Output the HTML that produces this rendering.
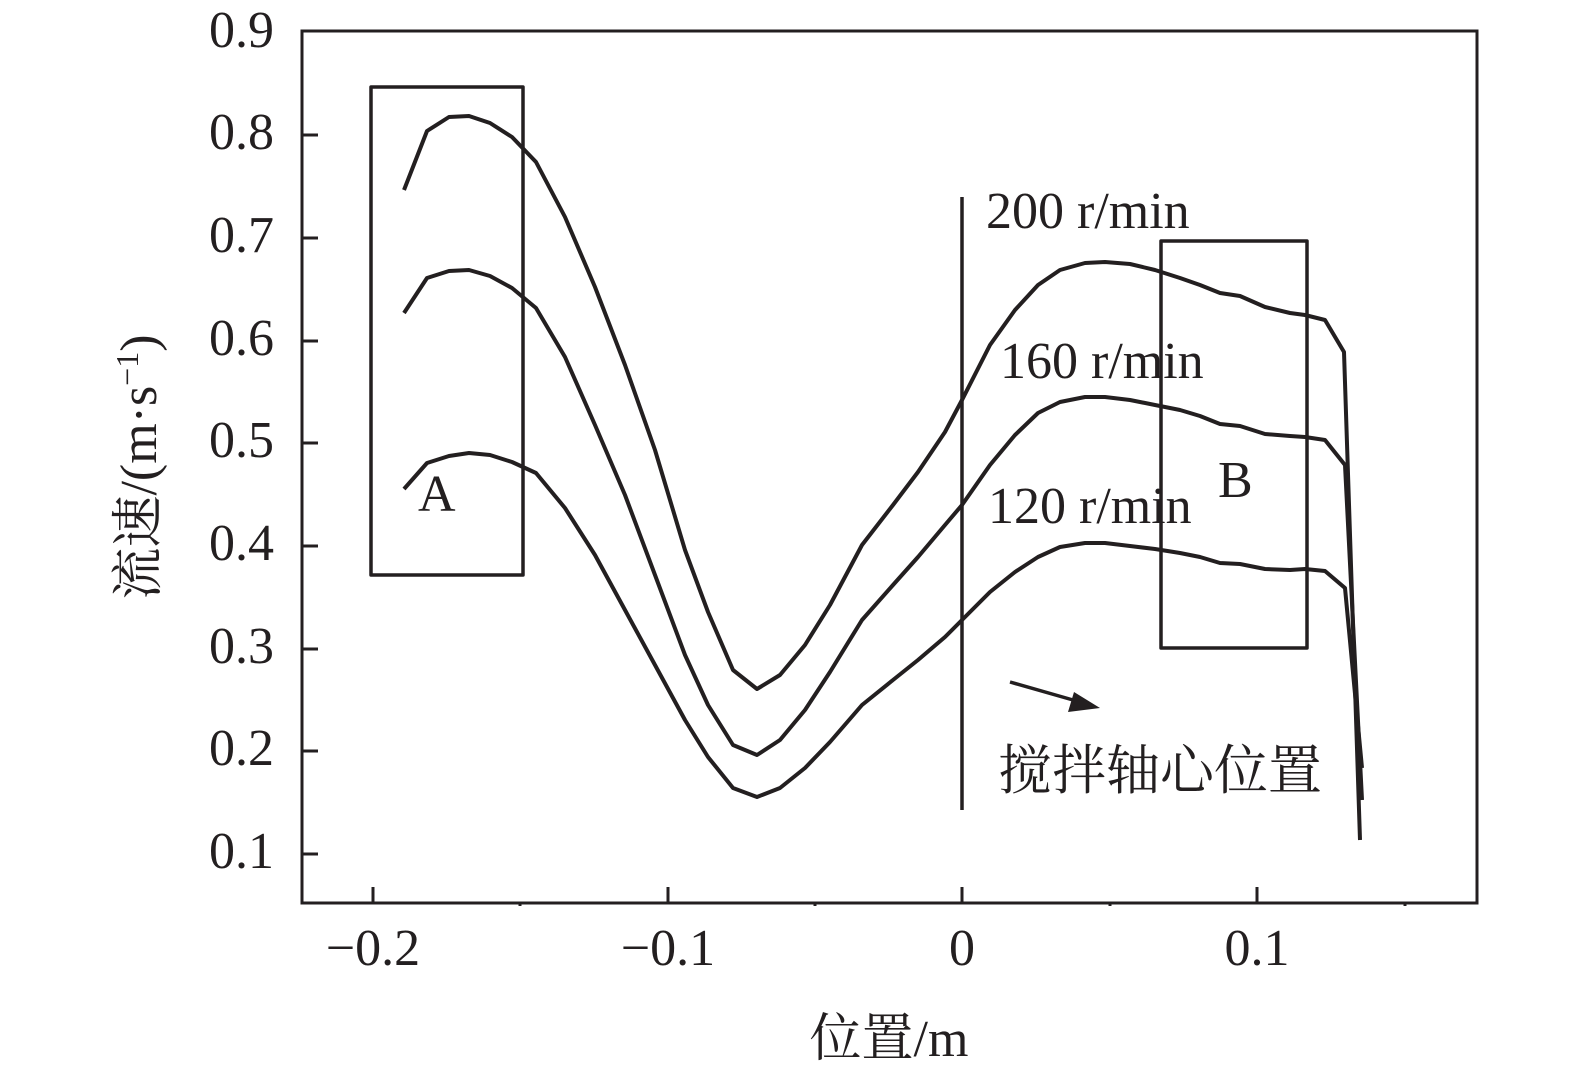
<!DOCTYPE html>
<html><head><meta charset="utf-8"><style>
html,body{margin:0;padding:0;background:#fff;}
svg{display:block;}
text{font-family:"Liberation Serif","Noto Serif CJK SC",serif;fill:#231f20;}
</style></head><body>
<svg width="1575" height="1078" viewBox="0 0 1575 1078" xmlns="http://www.w3.org/2000/svg">
<g stroke="#231f20" stroke-width="3" fill="none">
<rect x="302" y="31" width="1175" height="872"/>
<path d="M302 854h16M302 751h16M302 649h16M302 546h16M302 443h16M302 341h16M302 238h16M302 135h16"/>
<path d="M373 903v-16M668 903v-16M962 903v-16M1257 903v-16M520 903v3M815 903v3M1110 903v3M1405 903v3"/>
</g>
<g font-size="52" text-anchor="end">
<text x="274" y="868">0.1</text><text x="274" y="765">0.2</text><text x="274" y="663">0.3</text>
<text x="274" y="560">0.4</text><text x="274" y="457">0.5</text><text x="274" y="355">0.6</text>
<text x="274" y="252">0.7</text><text x="274" y="149">0.8</text><text x="274" y="47">0.9</text>
</g>
<g font-size="52" text-anchor="middle">
<text x="373" y="965">−0.2</text><text x="668" y="965">−0.1</text><text x="962" y="965">0</text><text x="1257" y="965">0.1</text>
<text x="889" y="1056">位置/m</text>
</g>
<text transform="translate(156,467) rotate(-90)" font-size="52" text-anchor="middle">流速/(m·s<tspan dy="-18" font-size="32">−1</tspan><tspan dy="18">)</tspan></text>
<g stroke="#231f20" stroke-width="4" fill="none" stroke-linejoin="round">
<polyline points="404,190 427,131 449,117 469,116 490,123 512,137 536,162 565,217 595,287 625,365 655,450 685,550 708,612 733,670 757,689 780,675 805,645 830,605 862,545 893,505 918,472 945,432 962,400 990,345 1015,310 1038,285 1060,270 1085,263 1105,262 1130,264 1155,270 1180,278 1200,285 1220,293 1240,296 1265,307 1290,313 1305,315 1325,320 1344,352 1360,840"/>
<polyline points="404,313 427,278 449,271 469,270 490,276 512,288 536,308 565,357 595,425 625,495 655,575 685,655 708,705 733,745 757,755 780,740 805,710 830,672 862,620 893,585 918,557 945,525 962,505 990,465 1015,435 1038,413 1060,402 1085,397 1105,397 1130,400 1155,405 1180,410 1200,416 1220,424 1240,426 1265,434 1290,436 1305,437 1325,440 1345,465 1362,800"/>
<polyline points="404,489 427,463 449,456 469,453 490,455 512,462 536,473 565,508 595,555 625,610 655,665 685,720 708,757 733,788 757,797 780,788 805,768 830,742 862,705 893,680 918,660 945,637 962,620 990,592 1015,572 1038,557 1060,547 1085,543 1105,543 1130,546 1155,549 1180,553 1200,557 1220,563 1240,564 1265,569 1290,570 1305,569 1325,571 1345,588 1362,768"/>
<rect x="371" y="87" width="152" height="488" stroke-width="3.5"/>
<rect x="1161" y="241" width="146" height="407" stroke-width="3.5"/>
<line x1="962" y1="197" x2="962" y2="810" stroke-width="3.5"/>
<line x1="1010" y1="682" x2="1080" y2="702" stroke-width="3.5"/>
</g>
<polygon points="1100,708 1068,712 1074,692" fill="#231f20"/>
<g font-size="52">
<text x="986" y="228">200 r/min</text>
<text x="1000" y="378">160 r/min</text>
<text x="988" y="523">120 r/min</text>
<text x="418" y="511">A</text>
<text x="1218" y="497">B</text>
<text x="998" y="789" font-size="54">搅拌轴心位置</text>
</g>
</svg>
</body></html>
